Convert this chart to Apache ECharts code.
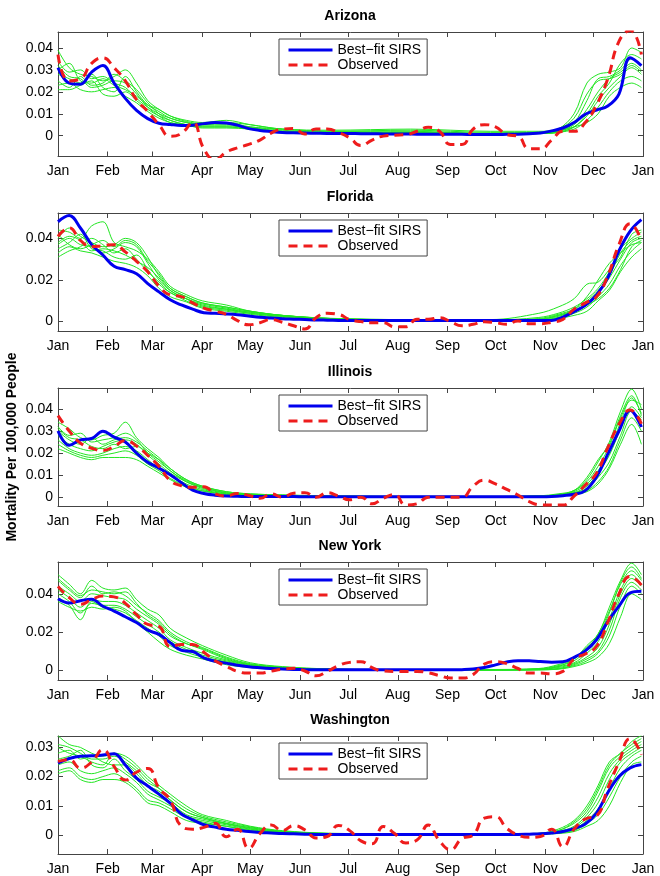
<!DOCTYPE html>
<html>
<head>
<meta charset="utf-8">
<script src="https://cdn.jsdelivr.net/npm/echarts@6/dist/echarts.min.js"></script>
<style>
  html, body { margin: 0; padding: 0; background: #fff; }
  #chart { width: 660px; height: 876px; }
</style>
</head>
<body>
<div id="chart"></div>
<script>
// month ticks (day of year)
const monthLabels = ['Jan', 'Feb', 'Mar', 'Apr', 'May', 'Jun', 'Jul', 'Aug', 'Sep', 'Oct', 'Nov', 'Dec', 'Jan'];
const monthStartDays = [0, 31, 59, 90, 120, 151, 181, 212, 243, 273, 304, 334, 365];

const states = ['Arizona', 'Florida', 'Illinois', 'New York', 'Washington'];
const yMins = [-0.0095, -0.0045, -0.004, -0.005, -0.0065];
const yMaxs = [0.0473, 0.0522, 0.0495, 0.0566, 0.0339];
const yTicks = [
    [0, 0.01, 0.02, 0.03, 0.04],
    [0, 0.02, 0.04],
    [0, 0.01, 0.02, 0.03, 0.04],
    [0, 0.02, 0.04],
    [0, 0.01, 0.02, 0.03]
];

// weekly days for fit + observed
const weekDays = [
    0, 7, 14, 21, 28, 35, 42, 49, 56, 63, 70, 77, 84,
    91, 98, 105, 112, 119, 126, 133, 140, 147, 154, 161, 168, 175,
    182, 189, 196, 203, 210, 217, 224, 231, 238, 245, 252, 259, 266,
    273, 280, 287, 294, 301, 308, 315, 322, 329, 336, 343, 350, 357, 364
];
// days for ensemble members
const ensembleDays = [0, 7, 14, 21, 28, 35, 42, 49, 56, 63, 70, 80, 90, 105, 120, 140, 170, 220, 270, 300, 312, 322, 330, 337, 344, 351, 358, 364];

// ---- Arizona
const azFit = [
    0.031, 0.024, 0.0235, 0.029, 0.032, 0.024, 0.017, 0.0115, 0.0078, 0.0057, 0.0051, 0.0047, 0.0048,
    0.0055, 0.006, 0.0058, 0.0048, 0.0032, 0.0024, 0.0019, 0.0015, 0.0013, 0.0012, 0.0011, 0.001, 0.001,
    0.001, 0.0009, 0.0009, 0.0008, 0.0008, 0.0008, 0.0007, 0.0007, 0.0006, 0.0006, 0.0006, 0.0005, 0.0005,
    0.0005, 0.0006, 0.0007, 0.0009, 0.0012, 0.0022, 0.0035, 0.006, 0.0098, 0.0117, 0.0135, 0.019, 0.0355, 0.032
];
const azObserved = [
    0.037, 0.025, 0.026, 0.033, 0.0355, 0.031, 0.025, 0.0164, 0.011, 0.005, -0.0003, 0.001, 0.006,
    -0.006, -0.011, -0.0075, -0.0055, -0.004, -0.002, 0.0012, 0.003, 0.0033, 0.0008, 0.003, 0.003, 0.0015,
    -0.001, -0.0045, -0.002, -0.0002, 0.0002, 0.0005, 0.002, 0.0038, 0.002, -0.004, -0.004, 0.003, 0.005,
    0.004, 0.0005, -0.0003, -0.006, -0.006, -0.002, 0.002, 0.002, 0.006, 0.014, 0.026, 0.043, 0.048, 0.037
];
const azEnsemble = [
    [0.039, 0.031, 0.028, 0.027, 0.025, 0.027, 0.030, 0.024, 0.016, 0.012, 0.009, 0.007, 0.006, 0.007, 0.005, 0.003, 0.002, 0.0025, 0.0015, 0.0015, 0.003, 0.010, 0.024, 0.028, 0.029, 0.031, 0.040, 0.038],
    [0.034, 0.029, 0.030, 0.026, 0.027, 0.024, 0.022, 0.017, 0.013, 0.010, 0.008, 0.006, 0.005, 0.006, 0.004, 0.003, 0.002, 0.002, 0.001, 0.0015, 0.002, 0.006, 0.016, 0.026, 0.027, 0.030, 0.035, 0.032],
    [0.028, 0.026, 0.024, 0.028, 0.022, 0.020, 0.027, 0.020, 0.014, 0.011, 0.008, 0.006, 0.005, 0.005, 0.004, 0.0025, 0.0015, 0.0015, 0.001, 0.001, 0.002, 0.005, 0.012, 0.020, 0.026, 0.029, 0.033, 0.030],
    [0.025, 0.022, 0.027, 0.023, 0.024, 0.028, 0.025, 0.021, 0.015, 0.010, 0.007, 0.005, 0.0045, 0.0045, 0.0035, 0.002, 0.0015, 0.001, 0.001, 0.001, 0.0015, 0.004, 0.009, 0.016, 0.022, 0.027, 0.031, 0.028],
    [0.023, 0.024, 0.021, 0.020, 0.021, 0.022, 0.018, 0.015, 0.011, 0.008, 0.006, 0.0045, 0.004, 0.004, 0.003, 0.002, 0.001, 0.001, 0.0008, 0.001, 0.0015, 0.003, 0.007, 0.013, 0.020, 0.025, 0.027, 0.025],
    [0.021, 0.021, 0.023, 0.025, 0.019, 0.018, 0.020, 0.016, 0.012, 0.009, 0.007, 0.005, 0.0035, 0.0035, 0.003, 0.0015, 0.001, 0.0008, 0.0005, 0.001, 0.002, 0.004, 0.006, 0.010, 0.018, 0.022, 0.024, 0.022],
    [0.030, 0.033, 0.025, 0.024, 0.026, 0.023, 0.021, 0.018, 0.014, 0.012, 0.009, 0.0065, 0.0055, 0.006, 0.005, 0.003, 0.0025, 0.003, 0.002, 0.002, 0.003, 0.008, 0.019, 0.025, 0.026, 0.028, 0.032, 0.029],
    [0.032, 0.027, 0.026, 0.022, 0.023, 0.025, 0.024, 0.019, 0.013, 0.009, 0.006, 0.005, 0.004, 0.004, 0.0035, 0.002, 0.0015, 0.0015, 0.001, 0.001, 0.0015, 0.004, 0.010, 0.018, 0.024, 0.033, 0.037, 0.035]
];

// ---- Florida
const flFit = [
    0.048, 0.051, 0.045, 0.037, 0.032, 0.0266, 0.025, 0.023, 0.0183, 0.0143, 0.0105, 0.008, 0.006,
    0.0043, 0.004, 0.0037, 0.0033, 0.0027, 0.0021, 0.0017, 0.0014, 0.0012, 0.001, 0.0008, 0.0007, 0.0006,
    0.0005, 0.0005, 0.0005, 0.0005, 0.0005, 0.0005, 0.0005, 0.0005, 0.0005, 0.0005, 0.0005, 0.0005, 0.0005,
    0.0005, 0.0005, 0.0005, 0.0005, 0.0005, 0.0006, 0.0022, 0.0048, 0.0078, 0.0128, 0.021, 0.034, 0.0435, 0.049
];
const flObserved = [
    0.041, 0.045, 0.039, 0.036, 0.0365, 0.037, 0.0335, 0.029, 0.024, 0.017, 0.0128, 0.012, 0.009,
    0.0065, 0.005, 0.0035, 0.0005, -0.0015, -0.0005, 0.001, -0.0003, -0.002, -0.0035, 0.0019, 0.004, 0.0035,
    0.001, 0.0, -0.0005, -0.0005, -0.0025, -0.0025, 0.0011, 0.0011, 0.0019, 0.0, -0.002, -0.0013, 0.0,
    -0.0005, -0.0013, 0.0003, -0.001, -0.001, -0.0003, 0.0011, 0.006, 0.009, 0.012, 0.022, 0.037, 0.047, 0.039
];
const flEnsemble = [
    [0.044, 0.043, 0.040, 0.046, 0.048, 0.038, 0.036, 0.034, 0.030, 0.024, 0.017, 0.013, 0.010, 0.008, 0.005, 0.003, 0.0015, 0.001, 0.001, 0.004, 0.007, 0.011, 0.018, 0.019, 0.025, 0.031, 0.042, 0.044],
    [0.040, 0.045, 0.041, 0.038, 0.036, 0.037, 0.040, 0.038, 0.031, 0.022, 0.016, 0.012, 0.009, 0.007, 0.005, 0.003, 0.0015, 0.0008, 0.0008, 0.002, 0.004, 0.007, 0.011, 0.016, 0.024, 0.035, 0.040, 0.043],
    [0.037, 0.040, 0.037, 0.036, 0.033, 0.035, 0.038, 0.036, 0.028, 0.020, 0.015, 0.011, 0.008, 0.006, 0.004, 0.0025, 0.0012, 0.0008, 0.0006, 0.001, 0.003, 0.005, 0.009, 0.014, 0.021, 0.030, 0.038, 0.040],
    [0.035, 0.038, 0.042, 0.035, 0.034, 0.031, 0.030, 0.032, 0.025, 0.018, 0.014, 0.010, 0.007, 0.0055, 0.004, 0.0025, 0.0012, 0.0006, 0.0005, 0.0008, 0.002, 0.004, 0.007, 0.012, 0.018, 0.027, 0.034, 0.038],
    [0.033, 0.036, 0.034, 0.033, 0.031, 0.029, 0.028, 0.026, 0.022, 0.016, 0.012, 0.0095, 0.0065, 0.005, 0.0035, 0.002, 0.001, 0.0005, 0.0005, 0.0007, 0.0015, 0.003, 0.005, 0.010, 0.015, 0.024, 0.031, 0.035],
    [0.031, 0.034, 0.036, 0.040, 0.037, 0.033, 0.035, 0.030, 0.024, 0.019, 0.014, 0.011, 0.0085, 0.0065, 0.0045, 0.003, 0.0015, 0.0008, 0.0006, 0.0015, 0.0035, 0.006, 0.010, 0.015, 0.022, 0.033, 0.039, 0.041],
    [0.038, 0.041, 0.039, 0.034, 0.035, 0.034, 0.032, 0.029, 0.026, 0.021, 0.015, 0.011, 0.0075, 0.006, 0.0045, 0.0028, 0.0014, 0.0007, 0.0006, 0.001, 0.0025, 0.005, 0.008, 0.011, 0.016, 0.025, 0.036, 0.039],
    [0.042, 0.037, 0.035, 0.037, 0.039, 0.036, 0.039, 0.037, 0.029, 0.023, 0.016, 0.012, 0.009, 0.007, 0.005, 0.003, 0.0016, 0.0009, 0.0007, 0.0012, 0.003, 0.006, 0.012, 0.020, 0.028, 0.033, 0.037, 0.038]
];

// ---- Illinois
const ilFit = [
    0.030, 0.0235, 0.026, 0.0266, 0.0299, 0.0272, 0.025, 0.020, 0.0158, 0.0132, 0.0102, 0.0066, 0.0032,
    0.0017, 0.0009, 0.0005, 0.0004, 0.0003, 0.0003, 0.0003, 0.0003, 0.0003, 0.0002, 0.0002, 0.0002, 0.0002,
    0.0002, 0.0002, 0.0002, 0.0002, 0.0002, 0.0002, 0.0002, 0.0002, 0.0002, 0.0002, 0.0002, 0.0002, 0.0002,
    0.0002, 0.0002, 0.0002, 0.0002, 0.0002, 0.0003, 0.0007, 0.0013, 0.003, 0.0092, 0.0195, 0.030, 0.0394, 0.0318
];
const ilObserved = [
    0.037, 0.030, 0.0245, 0.0222, 0.0212, 0.023, 0.0257, 0.0232, 0.019, 0.014, 0.0075, 0.0052, 0.0045,
    0.0047, 0.0015, 0.0005, 0.0017, 0.0008, -0.0005, 0.0015, 0.0, 0.0018, 0.002, 0.0, 0.002, 0.0005,
    -0.0012, 0.0, -0.003, -0.0005, 0.0012, -0.0036, -0.003, 0.0, 0.0, 0.0, 0.0, 0.005, 0.0077,
    0.006, 0.0035, 0.001, -0.002, -0.0035, -0.0036, -0.0036, 0.0005, 0.0055, 0.011, 0.0225, 0.033, 0.0395, 0.0333
];
const ilEnsemble = [
    [0.034, 0.031, 0.027, 0.026, 0.028, 0.029, 0.034, 0.027, 0.022, 0.018, 0.013, 0.008, 0.005, 0.0025, 0.0015, 0.001, 0.0006, 0.0004, 0.0004, 0.0006, 0.0015, 0.003, 0.008, 0.016, 0.025, 0.039, 0.049, 0.040],
    [0.032, 0.028, 0.029, 0.025, 0.026, 0.027, 0.029, 0.026, 0.020, 0.016, 0.012, 0.007, 0.0045, 0.002, 0.0012, 0.0008, 0.0005, 0.0003, 0.0003, 0.0005, 0.001, 0.003, 0.007, 0.014, 0.023, 0.036, 0.044, 0.042],
    [0.030, 0.026, 0.024, 0.027, 0.024, 0.026, 0.027, 0.025, 0.021, 0.017, 0.012, 0.0075, 0.0045, 0.002, 0.0012, 0.0008, 0.0004, 0.0003, 0.0003, 0.0004, 0.001, 0.0025, 0.006, 0.012, 0.021, 0.034, 0.045, 0.038],
    [0.028, 0.024, 0.022, 0.021, 0.023, 0.025, 0.026, 0.024, 0.019, 0.015, 0.011, 0.007, 0.004, 0.0018, 0.001, 0.0006, 0.0004, 0.0002, 0.0002, 0.0004, 0.0008, 0.002, 0.005, 0.011, 0.019, 0.031, 0.041, 0.036],
    [0.026, 0.022, 0.020, 0.019, 0.020, 0.022, 0.023, 0.021, 0.017, 0.013, 0.010, 0.006, 0.0035, 0.0015, 0.001, 0.0006, 0.0003, 0.0002, 0.0002, 0.0004, 0.0008, 0.002, 0.004, 0.009, 0.016, 0.028, 0.039, 0.035],
    [0.024, 0.021, 0.019, 0.018, 0.019, 0.020, 0.021, 0.019, 0.015, 0.012, 0.0085, 0.005, 0.003, 0.0014, 0.0009, 0.0005, 0.0003, 0.0002, 0.0002, 0.0003, 0.0006, 0.0015, 0.003, 0.007, 0.014, 0.026, 0.036, 0.030],
    [0.022, 0.020, 0.018, 0.017, 0.018, 0.018, 0.018, 0.017, 0.014, 0.011, 0.008, 0.0045, 0.0028, 0.0012, 0.0008, 0.0005, 0.0003, 0.0002, 0.0002, 0.0003, 0.0006, 0.0012, 0.0025, 0.006, 0.013, 0.024, 0.033, 0.024],
    [0.031, 0.027, 0.026, 0.023, 0.022, 0.024, 0.022, 0.023, 0.020, 0.017, 0.013, 0.008, 0.005, 0.0025, 0.0015, 0.001, 0.0005, 0.0003, 0.0003, 0.0005, 0.0012, 0.003, 0.009, 0.017, 0.024, 0.037, 0.046, 0.037]
];

// ---- New York
const nyFit = [
    0.0374, 0.0352, 0.0364, 0.0372, 0.0335, 0.031, 0.028, 0.025, 0.021, 0.0188, 0.0145, 0.0105, 0.0099,
    0.0065, 0.0048, 0.0038, 0.0027, 0.0019, 0.0014, 0.001, 0.0007, 0.0005, 0.0004, 0.0003, 0.0003, 0.0003,
    0.0003, 0.0003, 0.0003, 0.0003, 0.0003, 0.0003, 0.0003, 0.0003, 0.0003, 0.0003, 0.0004, 0.0007, 0.0015,
    0.0029, 0.0044, 0.0051, 0.005, 0.0046, 0.0043, 0.0045, 0.0068, 0.0102, 0.016, 0.0255, 0.0336, 0.0405, 0.0413
];
const nyObserved = [
    0.0439, 0.038, 0.0345, 0.037, 0.0388, 0.0384, 0.035, 0.0291, 0.024, 0.023, 0.0125, 0.0135, 0.0135,
    0.0095, 0.005, 0.0022, -0.0005, -0.0014, -0.0014, -0.0004, 0.0006, 0.0011, -0.0003, -0.0028, -0.0005, 0.0025,
    0.0042, 0.0045, 0.0015, -0.0003, -0.0005, -0.0005, -0.0005, -0.0012, -0.0027, -0.004, -0.004, -0.0022, 0.0033,
    0.0045, 0.0035, 0.001, -0.0014, -0.0014, -0.0018, -0.0005, 0.006, 0.0086, 0.0125, 0.025, 0.040, 0.049, 0.0445
];
const nyEnsemble = [
    [0.050, 0.045, 0.040, 0.047, 0.043, 0.042, 0.043, 0.037, 0.032, 0.029, 0.022, 0.017, 0.013, 0.008, 0.004, 0.002, 0.0008, 0.0005, 0.0005, 0.001, 0.003, 0.006, 0.013, 0.019, 0.033, 0.047, 0.056, 0.050],
    [0.047, 0.042, 0.038, 0.044, 0.040, 0.041, 0.039, 0.034, 0.030, 0.026, 0.020, 0.015, 0.012, 0.007, 0.0035, 0.0018, 0.0007, 0.0004, 0.0004, 0.0008, 0.0025, 0.005, 0.011, 0.019, 0.031, 0.045, 0.052, 0.047],
    [0.044, 0.040, 0.036, 0.040, 0.039, 0.038, 0.037, 0.032, 0.028, 0.024, 0.018, 0.014, 0.011, 0.006, 0.003, 0.0015, 0.0006, 0.0003, 0.0003, 0.0006, 0.002, 0.004, 0.009, 0.015, 0.027, 0.042, 0.050, 0.045],
    [0.042, 0.038, 0.033, 0.037, 0.036, 0.036, 0.034, 0.030, 0.026, 0.022, 0.016, 0.012, 0.009, 0.0055, 0.0028, 0.0012, 0.0005, 0.0003, 0.0003, 0.0005, 0.0015, 0.0035, 0.007, 0.012, 0.024, 0.040, 0.048, 0.044],
    [0.040, 0.036, 0.030, 0.035, 0.034, 0.034, 0.032, 0.028, 0.024, 0.020, 0.015, 0.011, 0.008, 0.005, 0.0025, 0.001, 0.0004, 0.0002, 0.0002, 0.0004, 0.001, 0.003, 0.006, 0.010, 0.021, 0.038, 0.046, 0.042],
    [0.038, 0.034, 0.0265, 0.036, 0.033, 0.032, 0.030, 0.026, 0.022, 0.018, 0.013, 0.0095, 0.007, 0.0045, 0.002, 0.0008, 0.0003, 0.0002, 0.0002, 0.0003, 0.0008, 0.0025, 0.005, 0.009, 0.018, 0.034, 0.044, 0.040],
    [0.036, 0.033, 0.031, 0.033, 0.032, 0.033, 0.031, 0.025, 0.020, 0.015, 0.011, 0.008, 0.006, 0.003, 0.0015, 0.0006, 0.0003, 0.0002, 0.0002, 0.0003, 0.0006, 0.002, 0.004, 0.007, 0.014, 0.028, 0.040, 0.037],
    [0.048, 0.043, 0.039, 0.042, 0.041, 0.040, 0.041, 0.035, 0.029, 0.025, 0.019, 0.014, 0.0115, 0.0065, 0.0032, 0.0015, 0.0006, 0.0004, 0.0004, 0.0008, 0.002, 0.006, 0.012, 0.018, 0.030, 0.046, 0.054, 0.048]
];

// ---- Washington
const waFit = [
    0.0246, 0.0262, 0.027, 0.0271, 0.0274, 0.0278, 0.024, 0.0195, 0.0168, 0.014, 0.0109, 0.0072, 0.0052,
    0.0035, 0.0027, 0.002, 0.0016, 0.0012, 0.0009, 0.0007, 0.0005, 0.0004, 0.0003, 0.0002, 0.0002, 0.0002,
    0.0002, 0.0002, 0.0002, 0.0002, 0.0002, 0.0002, 0.0002, 0.0002, 0.0002, 0.0002, 0.0002, 0.0002, 0.0002,
    0.0002, 0.0002, 0.0002, 0.0003, 0.0004, 0.0007, 0.0012, 0.0022, 0.0038, 0.0075, 0.0145, 0.020, 0.023, 0.0241
];
const waObserved = [
    0.0252, 0.0258, 0.0229, 0.025, 0.0292, 0.0235, 0.0188, 0.0215, 0.0228, 0.016, 0.012, 0.003, 0.002,
    0.0026, 0.004, -0.0006, 0.002, -0.0045, 0.0005, 0.0034, 0.0015, 0.0032, 0.0018, -0.001, -0.0005, 0.0033,
    0.0015, -0.002, -0.003, 0.0029, 0.0005, -0.0027, -0.0017, 0.0034, -0.002, -0.005, -0.0012, 0.0, 0.0058,
    0.0063, 0.0023, 0.0, -0.0008, -0.0005, 0.002, -0.004, 0.002, 0.0055, 0.0065, 0.016, 0.025, 0.033, 0.0275
];
const waEnsemble = [
    [0.034, 0.031, 0.030, 0.028, 0.027, 0.028, 0.027, 0.024, 0.020, 0.017, 0.014, 0.010, 0.007, 0.005, 0.003, 0.0015, 0.0006, 0.0004, 0.0004, 0.0006, 0.002, 0.005, 0.010, 0.017, 0.025, 0.028, 0.032, 0.034],
    [0.031, 0.030, 0.028, 0.026, 0.026, 0.027, 0.025, 0.022, 0.018, 0.016, 0.013, 0.009, 0.0065, 0.0045, 0.0028, 0.0013, 0.0005, 0.0003, 0.0003, 0.0005, 0.0015, 0.004, 0.008, 0.015, 0.023, 0.027, 0.030, 0.032],
    [0.028, 0.029, 0.026, 0.027, 0.025, 0.024, 0.024, 0.021, 0.017, 0.015, 0.012, 0.008, 0.006, 0.004, 0.0025, 0.0012, 0.0005, 0.0003, 0.0003, 0.0004, 0.0012, 0.003, 0.007, 0.013, 0.021, 0.026, 0.029, 0.031],
    [0.026, 0.027, 0.029, 0.024, 0.023, 0.026, 0.022, 0.019, 0.015, 0.013, 0.011, 0.007, 0.0055, 0.0038, 0.0022, 0.001, 0.0004, 0.0002, 0.0002, 0.0004, 0.001, 0.0025, 0.006, 0.011, 0.019, 0.025, 0.028, 0.030],
    [0.024, 0.025, 0.022, 0.021, 0.022, 0.023, 0.021, 0.018, 0.014, 0.012, 0.010, 0.0065, 0.005, 0.0035, 0.002, 0.001, 0.0004, 0.0002, 0.0002, 0.0003, 0.0008, 0.002, 0.005, 0.009, 0.016, 0.023, 0.027, 0.029],
    [0.022, 0.023, 0.020, 0.019, 0.020, 0.021, 0.019, 0.016, 0.012, 0.011, 0.009, 0.006, 0.0045, 0.003, 0.0018, 0.0009, 0.0003, 0.0002, 0.0002, 0.0003, 0.0007, 0.0015, 0.004, 0.007, 0.013, 0.020, 0.025, 0.027],
    [0.021, 0.022, 0.019, 0.018, 0.019, 0.019, 0.018, 0.015, 0.011, 0.010, 0.008, 0.005, 0.004, 0.003, 0.0015, 0.0008, 0.0003, 0.0002, 0.0002, 0.0003, 0.0005, 0.0012, 0.003, 0.005, 0.010, 0.018, 0.024, 0.025],
    [0.030, 0.028, 0.027, 0.025, 0.024, 0.028, 0.026, 0.023, 0.019, 0.016, 0.012, 0.008, 0.006, 0.004, 0.0025, 0.0012, 0.0005, 0.0003, 0.0003, 0.0005, 0.0015, 0.0045, 0.009, 0.016, 0.024, 0.028, 0.031, 0.033]
];

const fits = [azFit, flFit, ilFit, nyFit, waFit];
const observed = [azObserved, flObserved, ilObserved, nyObserved, waObserved];
const ensembles = [azEnsemble, flEnsemble, ilEnsemble, nyEnsemble, waEnsemble];

const FIT_NAME = 'Best\u2212fit SIRS';
const OBS_NAME = 'Observed';
const FONT = '"Liberation Sans", Arial, Helvetica, sans-serif';
const AXIS = '#444';
const GREEN = '#22e622';
const BLUE = '#0000ee';
const RED = '#ee1c1c';

// layout of the five panels
const gridTops = [32, 213, 388, 562, 736];
const gridHeights = [124.5, 118, 118, 118, 118];

const grids = [], xAxes = [], yAxes = [], series = [], legends = [], graphics = [];

states.forEach((st, i) => {
    grids.push({ left: 58, right: 17, top: gridTops[i], height: gridHeights[i], containLabel: false });

    const line = { show: true, onZero: false, lineStyle: { color: AXIS, width: 1 } };
    const xTick = { show: true, inside: true, length: 5, customValues: monthStartDays, lineStyle: { color: AXIS } };
    const yTick = { show: true, inside: true, length: 5, customValues: yTicks[i], lineStyle: { color: AXIS } };

    xAxes.push({
        type: 'value', gridIndex: i, min: 0, max: 365, position: 'bottom',
        axisLine: line, axisTick: xTick, splitLine: { show: false },
        axisLabel: {
            customValues: monthStartDays, margin: 8, color: '#000', fontSize: 14, fontFamily: FONT,
            formatter: v => monthLabels[monthStartDays.indexOf(v)]
        }
    });
    xAxes.push({
        type: 'value', gridIndex: i, min: 0, max: 365, position: 'top',
        axisLine: line, axisTick: xTick, splitLine: { show: false }, axisLabel: { show: false }
    });
    yAxes.push({
        type: 'value', gridIndex: i, min: yMins[i], max: yMaxs[i], position: 'left',
        axisLine: line, axisTick: yTick, splitLine: { show: false },
        axisLabel: {
            customValues: yTicks[i], margin: 5, color: '#000', fontSize: 14, fontFamily: FONT,
            formatter: v => String(v)
        }
    });
    yAxes.push({
        type: 'value', gridIndex: i, min: yMins[i], max: yMaxs[i], position: 'right',
        axisLine: line, axisTick: yTick, splitLine: { show: false }, axisLabel: { show: false }
    });

    ensembles[i].forEach(member => {
        series.push({
            type: 'line', xAxisIndex: 2 * i, yAxisIndex: 2 * i, silent: true,
            data: ensembleDays.map((d, k) => [d, member[k]]),
            symbol: 'none', smooth: 0.35,
            lineStyle: { color: GREEN, width: 1 }
        });
    });
    series.push({
        name: FIT_NAME, type: 'line', xAxisIndex: 2 * i, yAxisIndex: 2 * i,
        data: weekDays.map((d, k) => [d, fits[i][k]]),
        symbol: 'none', smooth: 0.4,
        itemStyle: { color: BLUE },
        lineStyle: { color: BLUE, width: 3 }
    });
    series.push({
        name: OBS_NAME, type: 'line', xAxisIndex: 2 * i, yAxisIndex: 2 * i,
        data: weekDays.map((d, k) => [d, observed[i][k]]),
        symbol: 'none', smooth: 0.5,
        itemStyle: { color: RED },
        lineStyle: { color: RED, width: 3, type: [9, 6] }
    });

    legends.push({
        data: [FIT_NAME, OBS_NAME], orient: 'vertical', left: 279, top: gridTops[i] + 7,
        itemWidth: 44, itemHeight: 14, itemGap: 1, padding: [4, 6, 3, 8],
        borderColor: AXIS, borderWidth: 1, borderRadius: 0, backgroundColor: '#fff',
        selectedMode: false,
        itemStyle: { opacity: 0 },
        lineStyle: { width: 3 },
        textStyle: { fontSize: 14, color: '#000', fontFamily: FONT }
    });

    graphics.push({
        type: 'text', x: 350, y: gridTops[i] - 16,
        style: { text: st, font: 'bold 14px ' + FONT, fill: '#000', textAlign: 'center', textVerticalAlign: 'middle' }
    });
});

graphics.push({
    type: 'text', x: 12, y: 447, rotation: Math.PI / 2,
    style: { text: 'Mortality Per 100,000 People', font: 'bold 14px ' + FONT, fill: '#000', textAlign: 'center', textVerticalAlign: 'middle' }
});

const chart = echarts.init(document.getElementById('chart'));
chart.setOption({
    animation: false,
    backgroundColor: '#fff',
    grid: grids,
    xAxis: xAxes,
    yAxis: yAxes,
    legend: legends,
    graphic: graphics,
    series: series
});
</script>
</body>
</html>
